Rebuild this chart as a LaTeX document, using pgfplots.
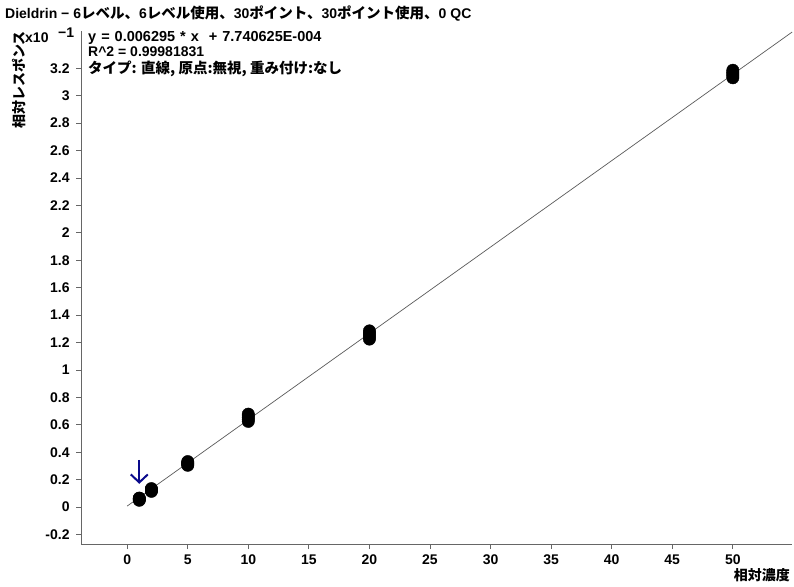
\documentclass[border=0pt]{standalone}
\usepackage{pgfplots}
\pgfplotsset{compat=1.18}
\usetikzlibrary{arrows.meta}
\usepackage{fontspec}
\setmainfont{Liberation Sans}
\newfontfamily\jp{Noto Sans CJK JP}
\definecolor{arrowblue}{RGB}{10,10,140}
\begin{document}
\begin{tikzpicture}[x=1pt,y=1pt]
\useasboundingbox (0,0) rectangle (794,586);
\begin{axis}[
  at={(67,30.5)}, anchor=south west, scale only axis,
  width=711pt, height=513pt,
  xmin=-3.8, xmax=54.9, ymin=-0.27, ymax=3.47,
  axis lines*=left,
  axis line style={gray!80!black, line width=0.8pt},
  tick style={gray!80!black, line width=0.8pt},
  tick align=outside, major tick length=5pt,
  xtick={0,5,10,15,20,25,30,35,40,45,50},
  ytick={-0.2,0,0.2,0.4,0.6,0.8,1,1.2,1.4,1.6,1.8,2,2.2,2.4,2.6,2.8,3,3.2},
  yticklabel style={/pgf/number format/fixed, /pgf/number format/precision=1},
  /pgf/number format/assume math mode=true,
  ticklabel style={font=\bfseries\fontsize{14}{16}\selectfont},
  xticklabel style={yshift=-2pt},
  yticklabel style={xshift=-3pt},
  clip=false,
]
\addplot[gray!70!black, line width=0.7pt] coordinates {(0,0.00774) (54.9,3.4637)};
\addplot[only marks, mark=*, mark size=6.2pt, black] coordinates {
(1,0.050) (1,0.055) (1,0.060) (1,0.063) (1,0.066)
(2,0.115) (2,0.120) (2,0.125) (2,0.130) (2,0.135)
(5,0.305) (5,0.312) (5,0.318) (5,0.325) (5,0.332)
(10,0.625) (10,0.640) (10,0.652) (10,0.665) (10,0.678)
(20,1.225) (20,1.240) (20,1.255) (20,1.270) (20,1.285)
(50,3.130) (50,3.145) (50,3.158) (50,3.170) (50,3.185)
};
\addplot[arrowblue, line width=2pt, -{Straight Barb[length=8pt,width=17pt]}] coordinates {(1,0.345) (1,0.17)};
\end{axis}
\begin{scope}[font=\bfseries\fontsize{14}{16}\selectfont]
\node[anchor=west, inner sep=0] at (5,572) {Dieldrin − 6{\jp\fontsize{14.5}{16}\selectfont レベル、}6{\jp\fontsize{14.5}{16}\selectfont レベル使用、}30{\jp\fontsize{14.5}{16}\selectfont ポイント、}30{\jp\fontsize{14.5}{16}\selectfont ポイント使用、}0 QC};
\node[anchor=west, inner sep=0] at (88,548) {\fontsize{14.5}{16}\selectfont\spaceskip=5pt y = 0.006295 * x \ + 7.740625E-004};
\node[anchor=west, inner sep=0] at (88,534) {R\textasciicircum 2 = 0.99981831};
\node[anchor=west, inner sep=0] at (88,517) {\jp\fontsize{14.5}{16}\selectfont タイプ: 直線,\ 原点:無視,\ 重み付け:なし};
\node[anchor=west, inner sep=0] at (25,548) {x10};
\node[anchor=west, inner sep=0] at (58,553) {−1};
\node[rotate=90, inner sep=0] at (19,506) {\jp 相対レスポンス};
\node[anchor=east, inner sep=0] at (790,11) {\jp 相対濃度};
\end{scope}
\end{tikzpicture}
\end{document}
